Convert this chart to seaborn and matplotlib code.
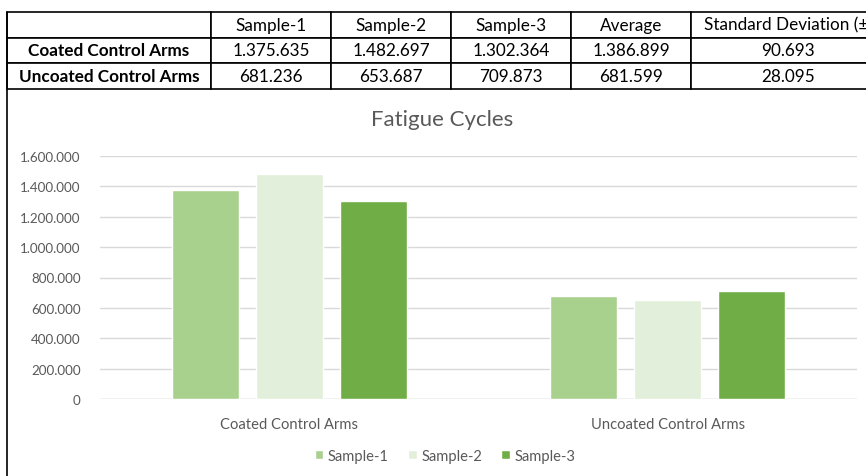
import pandas as pd
import matplotlib.pyplot as plt
import seaborn as sns
from matplotlib.lines import Line2D
from matplotlib.ticker import FuncFormatter

# Data
groups = ['Coated Control Arms', 'Uncoated Control Arms']
samples = ['Sample-1', 'Sample-2', 'Sample-3']
coated = [1375635, 1482697, 1302364]
uncoated = [681236, 653687, 709873]
averages = [1386899, 681599]
std_devs = [90693, 28095]
table_header = ['', 'Sample-1', 'Sample-2', 'Sample-3', 'Average', 'Standard Deviation (±)']
colors = ['#A9D18E', '#E2EFDA', '#70AD47']


def dotted(v):
    return f'{v:,.0f}'.replace(',', '.')


# Long form for seaborn
rows = []
for g, vals in zip(groups, [coated, uncoated]):
    for s, v in zip(samples, vals):
        rows.append({'Group': g, 'Sample': s, 'Cycles': v})
df = pd.DataFrame(rows)

sns.set_theme(style='white')
plt.rcParams['font.family'] = ['Lato', 'DejaVu Sans']
text_gray = '#595959'

W, H = 866, 477
fig = plt.figure(figsize=(W / 100, H / 100), dpi=100)

# Chart area
ax = fig.add_axes([100 / W, 1 - 400 / H, 757 / W, 243 / H])
sns.barplot(data=df, x='Group', y='Cycles', hue='Sample', palette=colors,
            width=0.666, gap=0.2, ax=ax, saturation=1, errorbar=None)
ax.set_ylim(0, 1600000)
ax.set_xlim(-0.5, 1.5)
ax.set_yticks(range(0, 1600001, 200000))
ax.yaxis.set_major_formatter(FuncFormatter(lambda v, p: dotted(v)))
ax.grid(axis='y', color='#D9D9D9', lw=1)
ax.set_axisbelow(True)
for sp in ax.spines.values():
    sp.set_visible(False)
ax.tick_params(axis='both', length=0, colors=text_gray)
ax.tick_params(axis='y', pad=14, labelsize=9.6)
ax.tick_params(axis='x', pad=13, labelsize=10.6)
ax.set_xlabel('')
ax.set_ylabel('')
ax.axhline(0, color='#D9D9D9', lw=1, zorder=0.5)

ax.legend(loc='center', bbox_to_anchor=(445 / W, 1 - 457 / H), bbox_transform=fig.transFigure,
          ncol=3, frameon=False, handlelength=0.6, handleheight=0.6, handletextpad=0.3,
          columnspacing=1.3, fontsize=10.6, labelcolor=text_gray)

fig.text(442 / W, 1 - 120 / H, 'Fatigue Cycles', ha='center', va='center',
         fontsize=16, color=text_gray)

# Table above the chart (last column runs past the right edge)
col_px = [204, 120, 120, 120, 120, 194]
tab_ax = fig.add_axes([7 / W, 1 - 90 / H, sum(col_px) / W, 77 / H])
tab_ax.axis('off')
cell_text = [table_header]
for g, vals, a, sd in zip(groups, [coated, uncoated], averages, std_devs):
    cell_text.append([g] + [dotted(v) for v in vals] + [dotted(a), dotted(sd)])
tbl = tab_ax.table(cellText=cell_text, colWidths=[c / sum(col_px) for c in col_px],
                   cellLoc='center', bbox=[0, 0, 1, 1])
tbl.auto_set_font_size(False)
for (r, c), cell in tbl.get_celld().items():
    cell.set_edgecolor('#000000')
    cell.set_linewidth(1.2)
    cell.set_facecolor('white')
    cell.get_text().set_fontsize(12.3)
    cell.get_text().set_color('#000000')
    if c == 0 and r > 0:
        cell.get_text().set_fontweight('bold')

# Left frame line of the screenshot
fig.add_artist(Line2D([7 / W, 7 / W], [0, 1 - 13 / H], transform=fig.transFigure,
                      color='#000000', lw=1.2))

fig.savefig('out.png', dpi=100)
